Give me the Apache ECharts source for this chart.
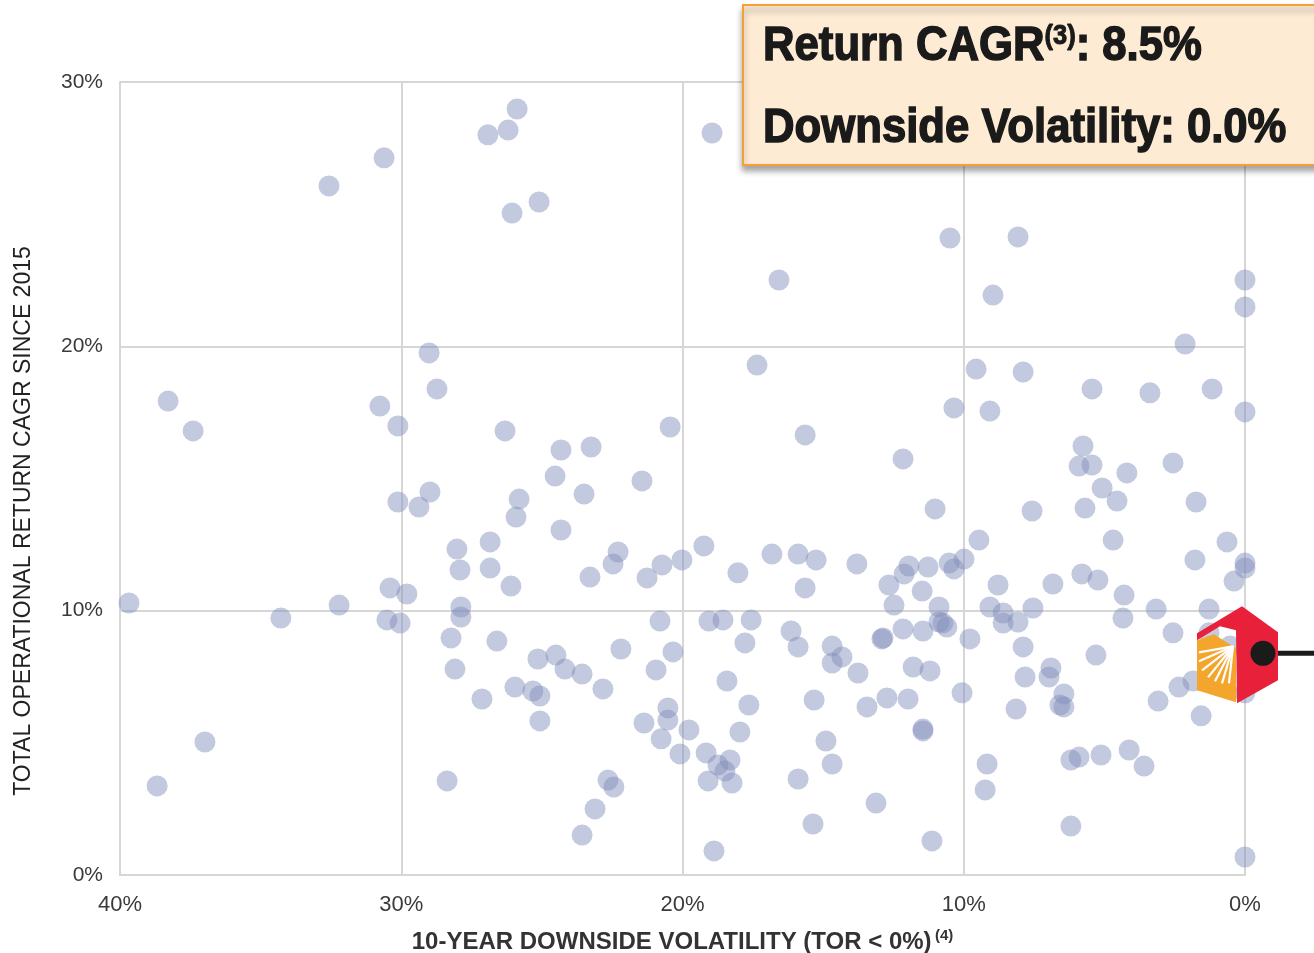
<!DOCTYPE html>
<html>
<head>
<meta charset="utf-8">
<script src="https://cdn.jsdelivr.net/npm/echarts@6/dist/echarts.min.js"></script>
<style>
  html, body { margin: 0; padding: 0; background: #fff; }
  #chart { width: 1314px; height: 953px; }
</style>
</head>
<body>
<div id="chart"></div>
<script>
// peers: 10-year downside volatility (%) and total operational return CAGR (%)
const peerVolatility = [
  39.68, 38.68, 38.29, 37.40, 36.98, 34.28, 32.57, 32.21, 30.61, 30.76,
  30.40, 30.51, 30.12, 30.12, 30.04, 29.80, 29.37, 29.01, 28.98, 28.73,
  28.37, 28.23, 28.09, 28.02, 27.91, 27.88, 27.88, 27.13, 26.92, 26.84,
  26.84, 26.60, 26.31, 26.20, 26.06, 26.10, 25.92, 25.81, 25.88, 25.96,
  25.32, 25.14, 25.10, 25.07, 25.07, 24.53, 24.50, 24.32, 24.32, 24.18,
  23.57, 23.50, 23.57, 23.29, 23.25, 23.11, 22.83, 22.65, 22.47, 22.44,
  22.29, 22.19, 21.44, 21.37, 21.26, 20.80, 20.94, 20.76, 20.73, 20.52,
  20.52, 20.44, 20.34, 20.09, 20.02, 19.77, 19.24, 19.16, 19.09, 18.95,
  19.06, 18.88, 18.74, 18.56, 18.49, 18.42, 18.31, 18.24, 18.03, 17.96,
  17.78, 17.64, 17.56, 17.35, 16.82, 16.57, 16.14, 15.89, 15.89, 15.89,
  15.64, 15.64, 15.36, 15.32, 15.25, 14.90, 14.68, 14.68, 14.68, 14.33,
  13.80, 13.76, 13.44, 13.12, 12.91, 12.87, 12.66, 12.73, 12.48, 12.16,
  12.16, 12.12, 11.98, 11.95, 11.80, 11.48, 11.45, 11.45, 11.45, 11.27,
  11.20, 11.13, 11.02, 10.88, 10.88, 10.74, 10.60, 10.52, 10.49, 10.35,
  10.35, 10.06, 9.99, 9.78, 9.56, 9.46, 9.17, 9.24, 9.07, 9.07,
  8.96, 8.78, 8.60, 8.60, 8.14, 8.07, 8.07, 7.89, 7.89, 7.82,
  7.57, 7.54, 6.97, 6.90, 6.83, 6.58, 6.44, 6.44, 6.19, 6.19,
  5.90, 5.80, 5.76, 5.90, 5.69, 5.44, 5.44, 5.30, 5.23, 5.12,
  5.08, 4.69, 4.55, 4.34, 4.30, 4.20, 4.12, 3.59, 3.38, 3.16,
  3.09, 2.56, 2.56, 2.35, 2.13, 1.85, 1.78, 1.74, 1.56, 1.28,
  1.28, 1.17, 0.64, 0.39, 0.00, 0.00, 0.00, 0.00, 0.00, 0.00,
  0.00, 0.53
];
const peerCagr = [
  10.29, 3.37, 17.93, 16.80, 5.03, 9.72, 26.07, 10.21, 27.13, 17.74,
  10.86, 9.65, 16.99, 14.11, 9.53, 10.63, 13.92, 19.75, 14.49, 18.39,
  3.56, 8.97, 7.79, 12.33, 11.54, 10.14, 9.76, 6.66, 28.00, 11.61,
  12.60, 8.85, 16.80, 28.18, 25.04, 10.93, 13.54, 14.22, 28.98, 7.11,
  6.96, 8.17, 25.46, 6.77, 5.83, 15.09, 8.32, 16.08, 13.05, 7.79,
  7.60, 14.41, 1.51, 11.27, 16.19, 2.50, 7.04, 3.59, 11.77, 3.33,
  12.22, 8.55, 14.91, 5.75, 11.24, 9.61, 7.76, 5.15, 11.73, 6.32,
  5.86, 16.95, 8.44, 4.58, 11.92, 5.49, 12.45, 4.62, 3.56, 28.07,
  9.61, 0.91, 4.16, 9.65, 3.93, 7.34, 4.35, 3.48, 11.43, 5.41,
  8.78, 6.43, 9.65, 19.29, 12.14, 22.51, 9.23, 12.14, 3.63, 8.63,
  16.65, 10.86, 1.93, 6.62, 11.92, 5.07, 8.02, 8.66, 4.20, 8.25,
  11.77, 7.64, 6.36, 2.72, 8.93, 8.97, 10.97, 6.70, 10.21, 15.74,
  9.31, 11.39, 6.66, 11.69, 7.87, 10.74, 5.52, 5.45, 9.23, 11.65,
  7.72, 1.29, 13.85, 9.57, 10.14, 9.53, 9.38, 11.80, 24.10, 11.58,
  17.67, 6.89, 11.95, 8.93, 19.14, 12.67, 4.20, 3.22, 17.55, 10.14,
  21.94, 10.97, 9.91, 9.53, 6.28, 9.57, 24.14, 8.63, 19.03, 7.49,
  13.77, 10.10, 7.49, 7.83, 11.01, 6.43, 6.85, 6.36, 4.35, 1.85,
  4.46, 11.39, 16.23, 15.47, 13.88, 15.51, 18.39, 8.32, 11.16, 4.54,
  14.64, 12.67, 14.15, 9.72, 10.59, 15.21, 4.73, 4.12, 18.24, 10.06,
  6.58, 15.59, 9.16, 7.11, 20.09, 7.34, 11.92, 14.11, 6.02, 10.06,
  9.16, 18.39, 12.60, 11.12, 11.80, 11.61, 22.51, 21.49, 17.52, 0.68,
  6.89, 8.66
];
// the highlighted company
const highlightVolatility = [0.0];
const highlightCagr = [8.5];

const xTitle = '10-YEAR DOWNSIDE VOLATILITY (TOR < 0%)';
const yTitle = 'TOTAL OPERATIONAL RETURN CAGR SINCE 2015';

const gridColor = '#d6d6d6';
const chart = echarts.init(document.getElementById('chart'));

const peerData = peerVolatility.map((v, i) => [v, peerCagr[i]]);
const highlightData = highlightVolatility.map((v, i) => [v, highlightCagr[i]]);

function renderLogo(params, api) {
  const p = api.coord([api.value(0), api.value(1)]);
  const x = p[0], y = p[1];
  const pts = arr => arr.map(a => [x + a[0], y + a[1]]);
  const rays = [[-46, 2], [-46, 11], [-43, 20], [-37, 27], [-30, 31], [-23, 33], [-16, 33]];
  const children = [
    { type: 'line', shape: { x1: x + 18, y1: y + 3, x2: x + 220, y2: y + 3 },
      style: { stroke: '#1b1b1b', lineWidth: 5 } },
    { type: 'polygon', shape: { points: pts([[-48, -10], [-31, -16], [-9, -2], [-9, 52], [-48, 40]]) },
      style: { fill: '#f4a52b' } },
    { type: 'polygon', shape: { points: pts([[-48, -17], [-3, -44], [33, -18], [33, 30], [-8, 53], [-9, -20], [-25, -24], [-48, -10]]) },
      style: { fill: '#e8203a' } }
  ];
  rays.forEach(r => {
    children.push({ type: 'line', shape: { x1: x - 12, y1: y - 4, x2: x + r[0], y2: y + r[1] },
      style: { stroke: '#ffffff', lineWidth: 2.2 } });
  });
  children.push({ type: 'circle', shape: { cx: x + 18, cy: y + 3, r: 12.5 }, style: { fill: '#1b1b1b' } });
  return { type: 'group', children: children };
}

const option = {
  backgroundColor: '#ffffff',
  animation: false,
  grid: { left: 120, right: 69, top: 82, bottom: 78, outerBoundsMode: 'none' },
  xAxis: {
    type: 'value',
    min: 0,
    max: 40,
    interval: 10,
    inverse: true,
    axisLine: { show: true, lineStyle: { color: gridColor, width: 2 } },
    axisTick: { show: false },
    axisLabel: { formatter: '{value}%', fontSize: 22, color: '#3a3a3a', margin: 19, fontFamily: 'Liberation Sans' },
    splitLine: { show: true, lineStyle: { color: gridColor, width: 2 } },
    name: '{b|' + xTitle + '} {s|(4)}',
    nameLocation: 'middle',
    nameGap: 53,
    nameTextStyle: {
      rich: {
        b: { fontSize: 24, fontWeight: 'bold', color: '#333', fontFamily: 'Liberation Sans', lineHeight: 28 },
        s: { fontSize: 15, fontWeight: 'bold', color: '#333', fontFamily: 'Liberation Sans', verticalAlign: 'top' }
      }
    }
  },
  yAxis: {
    type: 'value',
    min: 0,
    max: 30,
    interval: 10,
    axisLine: { show: true, onZero: false, lineStyle: { color: gridColor, width: 2 } },
    axisTick: { show: false },
    axisLabel: { formatter: '{value}%', fontSize: 21, color: '#3a3a3a', margin: 17, fontFamily: 'Liberation Sans' },
    splitLine: { show: true, lineStyle: { color: gridColor, width: 2 } }
  },
  graphic: [
    {
      type: 'text', x: 24, y: 521, rotation: Math.PI / 2,
      style: { text: yTitle, fontSize: 23, fontFamily: 'Liberation Sans', fill: '#222', align: 'center', verticalAlign: 'middle' }
    },
    {
      type: 'rect', z: 100,
      shape: { x: 743, y: 5, width: 640, height: 160 },
      style: { fill: '#fdebd4', stroke: '#f5a033', lineWidth: 2, shadowBlur: 6, shadowOffsetY: 5, shadowColor: 'rgba(0,0,0,0.35)' }
    },
    {
      type: 'text', z: 101, x: 763, y: 47, scaleX: 0.91,
      style: {
        text: '{a|Return CAGR}{s|(3)}{a|: ' + highlightCagr[0].toFixed(1) + '%}',
        verticalAlign: 'middle',
        rich: {
          a: { fontSize: 48, fontWeight: 'bold', fontFamily: 'Liberation Sans', fill: '#1a1a1a', stroke: '#1a1a1a', lineWidth: 1.5, lineHeight: 50 },
          s: { fontSize: 28, fontWeight: 'bold', fontFamily: 'Liberation Sans', fill: '#1a1a1a', stroke: '#1a1a1a', lineWidth: 1, verticalAlign: 'top' }
        }
      }
    },
    {
      type: 'text', z: 101, x: 763, y: 129, scaleX: 0.91,
      style: {
        text: 'Downside Volatility: ' + highlightVolatility[0].toFixed(1) + '%',
        fontSize: 48, fontWeight: 'bold', fontFamily: 'Liberation Sans',
        fill: '#1a1a1a', stroke: '#1a1a1a', lineWidth: 1.5, verticalAlign: 'middle'
      }
    }
  ],
  series: [
    {
      type: 'scatter',
      data: peerData,
      symbolSize: 21,
      itemStyle: { color: 'rgba(130,143,187,0.6)' },
      emphasis: { disabled: true }
    },
    {
      type: 'custom',
      data: highlightData,
      clip: false,
      z: 5,
      renderItem: renderLogo
    }
  ]
};
chart.setOption(option);
</script>
</body>
</html>
